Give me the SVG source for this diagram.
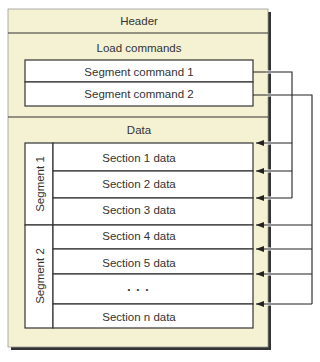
<svg xmlns="http://www.w3.org/2000/svg" width="320" height="362" viewBox="0 0 320 362">
<defs>
<style>
text{font-family:"Liberation Sans",Arial,sans-serif;font-size:11.5px;fill:#333;text-anchor:middle}
.box{fill:#fff;stroke:#333;stroke-width:1.2}
.sep{stroke:#333;stroke-width:1.2;fill:none}
.con{stroke:#222;stroke-width:1.1;fill:none}
.halo{stroke:#fff;stroke-width:3;fill:none}
</style>
<marker id="ah" viewBox="0 0 8 6" refX="8" refY="3" markerWidth="8" markerHeight="6" orient="auto" markerUnits="userSpaceOnUse">
<path d="M0,0 L8,3 L0,6 z" fill="#222"/>
</marker>
</defs>
<rect width="320" height="362" fill="#fff"/>
<g id="file">
<rect x="11" y="12" width="260" height="338" fill="#333"/>
<rect x="8" y="9" width="260" height="338" fill="#f4f2d3" stroke="#999" stroke-width="0.8"/>
<line class="sep" x1="8" y1="33" x2="268" y2="33"/>
<line class="sep" x1="8" y1="117" x2="268" y2="117"/>
</g>
<g id="header"><text x="139" y="25">Header</text></g>
<g id="loadcommands"><text x="139" y="52">Load commands</text></g>
<g id="segcmd1"><rect class="box" x="25" y="60" width="228" height="22"/><text x="139" y="76">Segment command 1</text></g>
<g id="segcmd2"><rect class="box" x="25" y="82" width="228" height="24"/><text x="139" y="98">Segment command 2</text></g>
<g id="data"><text x="139" y="134">Data</text></g>
<g id="segment1">
<rect class="box" x="25" y="143" width="28" height="82"/>
<text transform="translate(43.5,184) rotate(-90)">Segment  1</text>
</g>
<g id="segment2">
<rect class="box" x="25" y="225" width="28" height="103"/>
<text transform="translate(43.5,276) rotate(-90)">Segment  2</text>
</g>
<g id="section1"><rect class="box" x="53" y="143" width="200" height="28"/><text x="139" y="162">Section 1 data</text></g>
<g id="section2"><rect class="box" x="53" y="171" width="200" height="27"/><text x="139" y="188">Section 2 data</text></g>
<g id="section3"><rect class="box" x="53" y="198" width="200" height="27"/><text x="139" y="214">Section 3 data</text></g>
<g id="section4"><rect class="box" x="53" y="225" width="200" height="24"/><text x="139" y="240">Section 4 data</text></g>
<g id="section5"><rect class="box" x="53" y="249" width="200" height="25"/><text x="139" y="267">Section 5 data</text></g>
<g id="sectiondots"><rect class="box" x="53" y="274" width="200" height="30"/><text x="139" y="292" style="font-size:8px;letter-spacing:2px">• • •</text></g>
<g id="sectionn"><rect class="box" x="53" y="304" width="200" height="24"/><text x="139" y="321">Section n data</text></g>
<g id="connectors">
<g class="halo">
<line x1="266" y1="72" x2="274" y2="72"/>
<line x1="266" y1="95" x2="274" y2="95"/>
<line x1="266" y1="143" x2="274" y2="143"/>
<line x1="266" y1="171" x2="274" y2="171"/>
<line x1="266" y1="198" x2="274" y2="198"/>
<line x1="266" y1="225" x2="274" y2="225"/>
<line x1="266" y1="249" x2="274" y2="249"/>
<line x1="266" y1="274" x2="274" y2="274"/>
<line x1="266" y1="304" x2="274" y2="304"/>
</g>
<polyline class="con" points="253,72 292,72 292,198"/>
<polyline class="con" points="253,95 312,95 312,304"/>
<line class="con" x1="292" y1="143" x2="256" y2="143" marker-end="url(#ah)"/>
<line class="con" x1="292" y1="171" x2="256" y2="171" marker-end="url(#ah)"/>
<line class="con" x1="292" y1="198" x2="256" y2="198" marker-end="url(#ah)"/>
<line class="con" x1="312" y1="225" x2="256" y2="225" marker-end="url(#ah)"/>
<line class="con" x1="312" y1="249" x2="256" y2="249" marker-end="url(#ah)"/>
<line class="con" x1="312" y1="274" x2="256" y2="274" marker-end="url(#ah)"/>
<line class="con" x1="312" y1="304" x2="256" y2="304" marker-end="url(#ah)"/>
</g>
</svg>
